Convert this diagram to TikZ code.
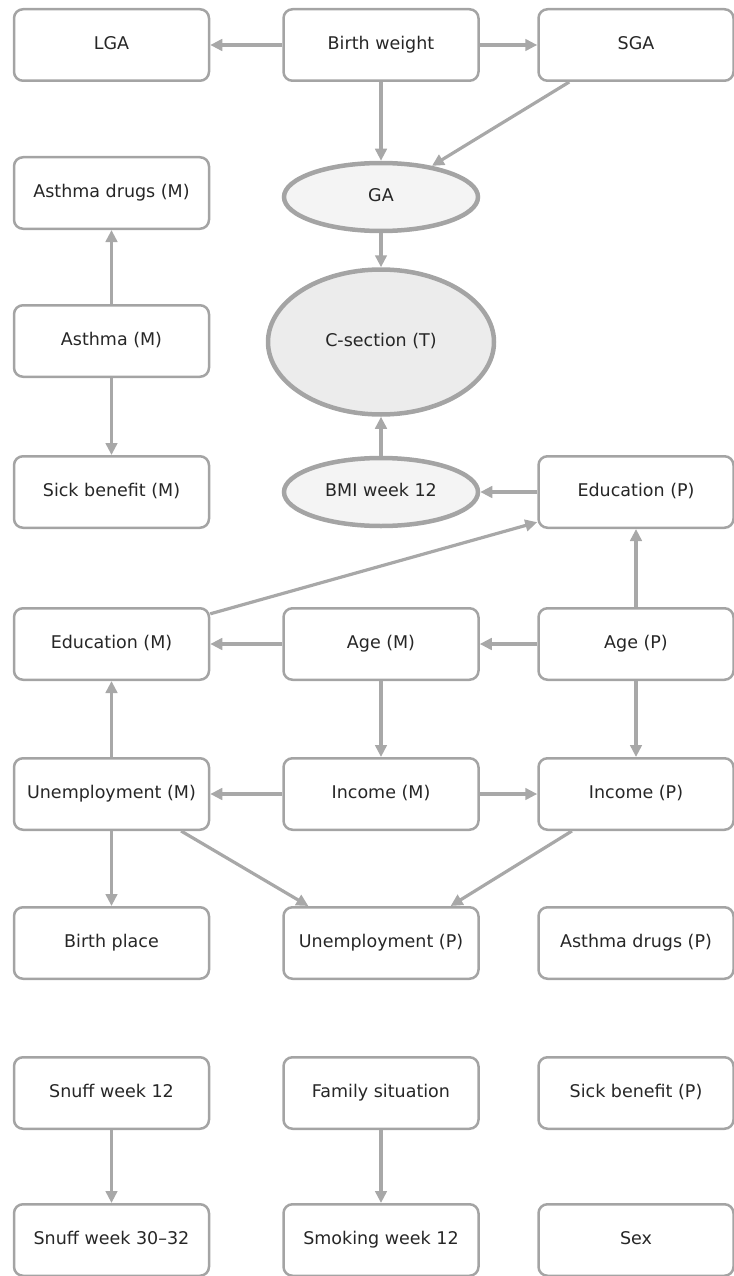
\documentclass[tikz,border=0pt]{standalone}
\usepackage{fontspec}
\setmainfont{DejaVu Sans}
\usetikzlibrary{arrows.meta}
\usetikzlibrary{shapes.geometric}
\usetikzlibrary{positioning}

\definecolor{boxgray}{HTML}{A4A4A4}
\definecolor{arrgray}{HTML}{A8A8A8}
\definecolor{textgray}{HTML}{262626}
\definecolor{ovalfill}{HTML}{F4F4F4}
\definecolor{mainfill}{HTML}{ECECEC}

\begin{document}
\begin{tikzpicture}[x=1pt, y=-1pt,
    every node/.style={font=\fontsize{17.5}{20}\selectfont, text=textgray,
        text height=12.8pt, text depth=3.6pt},
    box/.style={draw=boxgray, line width=2.5pt, rounded corners=9pt,
        minimum width=195pt, minimum height=71.5pt, inner sep=0pt},
    oval/.style={ellipse, draw=boxgray, line width=4.5pt, fill=ovalfill,
        minimum width=194pt, minimum height=68pt, inner sep=0pt},
    arr/.style={draw=arrgray, line width=3.2pt, arrows=-{Triangle[length=12pt,width=11.5pt]}}]
    \useasboundingbox (0,0) rectangle (733,1276);

    % top: birth weight and the outcome
    \node[box] (LGA) at (111.5,45) {LGA};
    \node[box] (BW) at (381,45) {Birth weight};
    \node[box] (SGA) at (636,45) {SGA};
    \node[oval] (GA) at (381,197) {GA};
    \node[oval, fill=mainfill, minimum width=226pt, minimum height=145pt] (CS) at (381,342) {C-section (T)};
    \node[oval] (BMI) at (381,492) {BMI week 12};

    \node[box] (AdM) at (111.5,193) {Asthma drugs (M)};
    \node[box] (AsM) at (111.5,341) {Asthma (M)};
    \node[box] (SbM) at (111.5,492) {Sick benefit (M)};
    \node[box] (EdP) at (636,492) {Education (P)};

    % parents
    \node[box] (EdM) at (111.5,644) {Education (M)};
    \node[box] (AgM) at (381,644) {Age (M)};
    \node[box] (AgP) at (636,644) {Age (P)};
    \node[box] (UnM) at (111.5,794) {Unemployment (M)};
    \node[box] (InM) at (381,794) {Income (M)};
    \node[box] (InP) at (636,794) {Income (P)};
    \node[box] (BP) at (111.5,943) {Birth place};
    \node[box] (UnP) at (381,943) {Unemployment (P)};
    \node[box] (AdP) at (636,943) {Asthma drugs (P)};

    % bottom rows
    \node[box] (Sn12) at (111.5,1093) {Snuff week 12};
    \node[box] (Fam) at (381,1093) {Family situation};
    \node[box] (SbP) at (636,1093) {Sick benefit (P)};
    \node[box] (Sn30) at (111.5,1240) {Snuff week 30--32};
    \node[box] (Sm12) at (381,1240) {Smoking week 12};
    \node[box] (Sex) at (636,1240) {Sex};

    \draw[arr] (BW) -- (LGA);
    \draw[arr] (BW) -- (SGA);
    \draw[arr] (BW) -- (GA);
    \draw[arr] (SGA.209) -- (GA);
    \draw[arr] (GA) -- (CS);
    \draw[arr] (BMI) -- (CS);
    \draw[arr] (AsM) -- (AdM);
    \draw[arr] (AsM) -- (SbM);
    \draw[arr] (EdP) -- (BMI);
    \draw[arr] (EdM.17) -- (EdP.197);

    \draw[arr] (AgP) -- (EdP);
    \draw[arr] (AgM) -- (EdM);
    \draw[arr] (AgP) -- (AgM);
    \draw[arr] (AgM) -- (InM);
    \draw[arr] (AgP) -- (InP);
    \draw[arr] (UnM) -- (EdM);
    \draw[arr] (InM) -- (UnM);
    \draw[arr] (InM) -- (InP);
    \draw[arr] (UnM) -- (BP);
    \draw[arr] (UnM.332) -- (UnP.153);
    \draw[arr] (InP.210) -- (UnP.28);

    \draw[arr] (Sn12) -- (Sn30);
    \draw[arr] (Fam) -- (Sm12);
\end{tikzpicture}
\end{document}
